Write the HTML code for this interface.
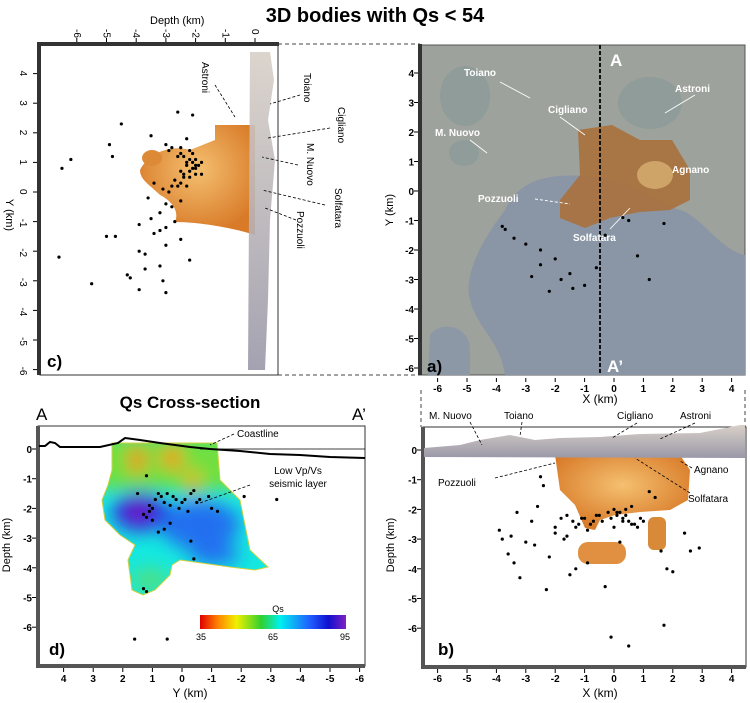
<!DOCTYPE html>
<html><head><meta charset="utf-8"><style>
body{margin:0;background:#fff;}
svg{display:block;font-family:"Liberation Sans",sans-serif;}
</style></head><body>
<svg id="fig" width="750" height="703" viewBox="0 0 750 703">
<defs>
<filter id="blur6"><feGaussianBlur stdDeviation="9"/></filter>
<clipPath id="dclip"><polygon points="112,443 217,443 220,480 240,500 245,525 250,550 268,567 255,570 230,567 180,560 172,565 170,575 155,590 143,595 132,590 128,560 135,545 120,535 105,520 102,500 108,485 112,470"/></clipPath>
<linearGradient id="cbar" x1="0" x2="1"><stop offset="0" stop-color="#e00000"/><stop offset="0.12" stop-color="#ff8000"/><stop offset="0.25" stop-color="#f0f000"/><stop offset="0.42" stop-color="#30d030"/><stop offset="0.55" stop-color="#00f0f0"/><stop offset="0.75" stop-color="#2060ff"/><stop offset="0.88" stop-color="#1010d0"/><stop offset="1" stop-color="#8020c0"/></linearGradient>
<radialGradient id="orange" cx="0.5" cy="0.4" r="0.6"><stop offset="0" stop-color="#f4c070"/><stop offset="1" stop-color="#d87a28"/></radialGradient>
<linearGradient id="surf" x1="0" y1="0" x2="0" y2="1"><stop offset="0" stop-color="#d8d0c8"/><stop offset="1" stop-color="#9a98a8"/></linearGradient>
</defs>
<text x="375" y="22" text-anchor="middle" font-size="20" font-weight="bold">3D bodies with Qs &lt; 54</text>

<g stroke="#444" stroke-dasharray="4,3" stroke-width="1" fill="none">
<line x1="278" y1="44" x2="420" y2="44"/><line x1="278" y1="375" x2="420" y2="375"/>
<line x1="421" y1="390" x2="421" y2="427"/><line x1="745" y1="390" x2="745" y2="427"/>
</g>

<!-- Panel c -->
<g>
<rect x="40" y="44" width="238" height="331" fill="#fff" stroke="#333" stroke-width="1"/>
<rect x="37" y="44" width="4" height="331" fill="#333"/>
<rect x="37" y="42" width="242" height="4" fill="#333"/>
<path d="M140,170 C150,150 175,145 190,150 L215,140 L215,125 L255,125 L255,235 L245,232 C230,228 200,222 175,222 C180,210 170,200 160,195 C150,185 140,180 140,170Z" fill="url(#orange)"/>
<ellipse cx="152" cy="158" rx="10" ry="8" fill="#dd8a36"/>
<path d="M252,52 L270,52 L274,80 L268,120 L275,160 L270,220 L268,300 L265,370 L248,370 L250,52Z" fill="url(#surf)" opacity="0.9"/>
<text x="150" y="24" font-size="11">Depth (km)</text>
<g id="cTopTicks" font-size="10"></g>
<g id="cLeftTicks" font-size="10"></g>
<text x="6" y="215" font-size="11" transform="rotate(90 6 215)" text-anchor="middle">Y (km)</text>
<g id="cDots"></g>
<g font-size="10">
<text transform="translate(202,62) rotate(90)">Astroni</text>
<text transform="translate(304,73) rotate(90)">Toiano</text>
<text transform="translate(338,107) rotate(90)">Cigliano</text>
<text transform="translate(307,143) rotate(90)">M. Nuovo</text>
<text transform="translate(335,188) rotate(90)">Solfatara</text>
<text transform="translate(297,211) rotate(90)">Pozzuoli</text>
</g>
<g stroke="#000" stroke-dasharray="3,2" stroke-width="0.8" fill="none">
<line x1="215" y1="85" x2="235" y2="117"/><line x1="300" y1="95" x2="270" y2="104"/>
<line x1="330" y1="128" x2="268" y2="138"/><line x1="298" y1="165" x2="262" y2="157"/>
<line x1="325" y1="205" x2="262" y2="190"/><line x1="296" y1="220" x2="265" y2="208"/>
</g>
<text x="47" y="367" font-size="17" font-weight="bold">c)</text>
</g>

<!-- Panel a -->
<g>
<rect x="420" y="45" width="325" height="330" fill="#9ea29c" stroke="#555"/>
<path d="M505,210 C520,175 560,172 600,178 C640,185 660,205 680,210 C700,215 720,250 745,255 L745,375 L505,375 C500,340 478,330 470,300 C462,270 490,230 505,210Z" fill="#8a96a6"/>
<path d="M430,335 C440,320 470,325 470,350 L470,375 L428,375Z" fill="#8c98a6"/>
<ellipse cx="465" cy="96" rx="25" ry="30" fill="#8f9c9a"/><ellipse cx="650" cy="103" rx="32" ry="26" fill="#8f9c9a"/><ellipse cx="464" cy="153" rx="15" ry="13" fill="#8f9c9a"/>
<path d="M578,130 L612,125 L640,140 L672,140 L690,170 L690,200 L670,210 L640,212 L610,218 L585,228 L560,218 L560,200 L580,175 Z" fill="#a8703c" opacity="0.9"/>
<ellipse cx="655" cy="175" rx="18" ry="14" fill="#d8b070" opacity="0.8"/>
<line x1="600" y1="45" x2="600" y2="375" stroke="#111" stroke-width="2" stroke-dasharray="4,2"/>
<rect x="418" y="44" width="4" height="331" fill="#333"/>
<text x="610" y="66" font-size="17" font-weight="bold" fill="#fff">A</text>
<text x="607" y="372" font-size="17" font-weight="bold" fill="#fff">A’</text>
<text x="427" y="372" font-size="17" font-weight="bold" fill="#000">a)</text>
<g font-size="10" font-weight="bold" fill="#fff">
<text x="464" y="76">Toiano</text><text x="675" y="92">Astroni</text><text x="548" y="113">Cigliano</text>
<text x="435" y="136">M. Nuovo</text><text x="672" y="173">Agnano</text><text x="478" y="202">Pozzuoli</text><text x="573" y="241">Solfatara</text>
</g>
<g stroke="#fff" stroke-width="0.9" fill="none">
<line x1="500" y1="82" x2="530" y2="98"/><line x1="695" y1="95" x2="665" y2="113"/><line x1="560" y1="117" x2="585" y2="135"/>
<line x1="470" y1="140" x2="487" y2="153"/><line x1="535" y1="199" x2="570" y2="204" stroke-dasharray="3,2"/><line x1="610" y1="229" x2="630" y2="208"/>
</g>
<g id="aDots"></g>
<g id="aLeftTicks" font-size="10"></g>
<text x="393" y="210" font-size="11" transform="rotate(-90 393 210)" text-anchor="middle">Y (km)</text>
</g>

<!-- Panel b -->
<g>
<g id="bTopTicks" font-size="10"></g>
<text x="600" y="403" font-size="12" text-anchor="middle">X (km)</text>
<rect x="423" y="427" width="323" height="240" fill="#fff" stroke="#333"/>
<rect x="421" y="427" width="4" height="242" fill="#555"/>
<rect x="421" y="665" width="325" height="4" fill="#555"/>
<path d="M555,455 L680,455 L690,470 L688,500 L670,510 L640,512 L615,515 L600,520 L595,530 L585,528 L575,505 L560,490 Z" fill="url(#orange)"/>
<rect x="648" y="517" width="18" height="33" rx="6" fill="#d88a38"/>
<rect x="578" y="542" width="48" height="22" rx="10" fill="#e09040"/>
<path d="M424,448 L460,445 L480,440 L510,435 L535,440 L560,438 L600,437 L640,434 L700,433 L740,425 L745,425 L745,458 L424,457Z" fill="url(#surf)"/>
<g id="bLeftTicks" font-size="10"></g>
<g id="bBotTicks" font-size="10"></g>
<text x="600" y="697" font-size="12" text-anchor="middle">X (km)</text>
<text x="394" y="545" font-size="11" transform="rotate(-90 394 545)" text-anchor="middle">Depth (km)</text>
<g id="bDots"></g>
<g font-size="10">
<text x="429" y="419">M. Nuovo</text><text x="504" y="419">Toiano</text><text x="617" y="419">Cigliano</text><text x="680" y="419">Astroni</text>
<text x="438" y="486">Pozzuoli</text><text x="694" y="473">Agnano</text><text x="688" y="502">Solfatara</text>
</g>
<g stroke="#000" stroke-width="0.8" fill="none" stroke-dasharray="3,2">
<line x1="470" y1="422" x2="482" y2="445"/><line x1="522" y1="422" x2="520" y2="436"/><line x1="637" y1="423" x2="612" y2="438"/><line x1="695" y1="423" x2="660" y2="439"/>
<line x1="495" y1="478" x2="555" y2="463"/><line x1="692" y1="468" x2="680" y2="461"/><line x1="690" y1="493" x2="635" y2="458"/>
</g>
<text x="438" y="655" font-size="17" font-weight="bold">b)</text>
</g>

<!-- Panel d -->
<g>
<text x="190" y="408" font-size="17" font-weight="bold" text-anchor="middle">Qs Cross-section</text>
<text x="36" y="420" font-size="17">A</text>
<text x="352" y="420" font-size="17">A’</text>
<rect x="38" y="426" width="327" height="240" fill="#fff" stroke="#333"/>
<rect x="36" y="426" width="4" height="242" fill="#555"/>
<rect x="36" y="664" width="329" height="4" fill="#555"/>
<g clip-path="url(#dclip)">
<rect x="95" y="435" width="180" height="170" fill="#14e8e0"/>
<g filter="url(#blur6)">
<rect x="95" y="435" width="180" height="55" fill="#70e040"/>
<ellipse cx="200" cy="525" rx="40" ry="25" fill="#2070f0"/>
<ellipse cx="215" cy="555" rx="25" ry="10" fill="#2070f0"/>
<ellipse cx="140" cy="512" rx="28" ry="20" fill="#2030e0"/>
<ellipse cx="138" cy="512" rx="14" ry="11" fill="#7010c0"/>
<ellipse cx="137" cy="460" rx="8" ry="14" fill="#ff7a00"/>
<ellipse cx="172" cy="458" rx="10" ry="12" fill="#ff8a00"/>
<ellipse cx="193" cy="482" rx="7" ry="12" fill="#ffa000"/>
<ellipse cx="150" cy="580" rx="20" ry="12" fill="#50e080"/>
</g>
</g>
<polygon points="112,443 217,443 220,480 240,500 245,525 250,550 268,567 255,570 230,567 180,560 172,565 170,575 155,590 143,595 132,590 128,560 135,545 120,535 105,520 102,500 108,485 112,470" fill="none" stroke="#d0d040" stroke-width="1"/>
<path d="M39,446 L45,446 L50,442 L55,443 L60,447 L100,447 L118,443 L125,438 L140,440 L160,443 L190,447 L210,449 L240,451 L270,454 L300,455 L330,457 L365,458" fill="none" stroke="#000" stroke-width="2"/>
<line x1="200" y1="449" x2="365" y2="449" stroke="#000" stroke-width="0.8"/>
<g id="dLeftTicks" font-size="10"></g>
<g id="dBotTicks" font-size="10"></g>
<text x="190" y="697" font-size="12" text-anchor="middle">Y (km)</text>
<text x="10" y="545" font-size="11" transform="rotate(-90 10 545)" text-anchor="middle">Depth (km)</text>
<g id="dDots"></g>
<text x="237" y="437" font-size="10">Coastline</text>
<line x1="234" y1="434" x2="210" y2="445" stroke="#000" stroke-width="0.8" stroke-dasharray="3,2"/>
<text x="298" y="474" font-size="10" text-anchor="middle">Low Vp/Vs</text>
<text x="298" y="487" font-size="10" text-anchor="middle">seismic layer</text>
<line x1="250" y1="485" x2="200" y2="503" stroke="#000" stroke-width="0.8" stroke-dasharray="3,2"/>
<rect x="200" y="615" width="146" height="14" fill="url(#cbar)"/>
<text x="278" y="612" font-size="9" text-anchor="middle">Qs</text>
<text x="201" y="640" font-size="9" text-anchor="middle">35</text><text x="273" y="640" font-size="9" text-anchor="middle">65</text><text x="345" y="640" font-size="9" text-anchor="middle">95</text>
<text x="49" y="655" font-size="17" font-weight="bold">d)</text>
</g>
</svg>
<script>
// ---- data ----
const depthTicks = [0,-1,-2,-3,-4,-5,-6];
const yTicksMap = [4,3,2,1,0,-1,-2,-3,-4,-5,-6];
const xTicks = [-6,-5,-4,-3,-2,-1,0,1,2,3,4];
const dYTicks = [4,3,2,1,0,-1,-2,-3,-4,-5,-6];
// panel c: [Y km, depth km]
const cDotsY = [2.7,2.6,2.3,1.9,1.8,1.6,1.5,1.3,1.2,1.1,1.0,0.9,0.8,0.7,0.6,0.5,0.3,0.2,0.1,0,-0.2,-0.4,-0.5,-0.7,-0.9,-1.1,-1.3,-1.5,-1.5,-1.6,-1.8,-2.0,-2.1,-2.2,-2.3,-2.5,-2.6,-2.8,-3.0,-3.1,-3.4,1.1,0.8,1.6,1.2,0.9,1.4,0.6,0.4,0.2,1.3,1.1,1.0,0.9,0.7,0.5,1.5,1.2,0.8,0.6,0.3,1.4,1.0,0.2,-0.3,-1.2,-1.4,-1.0,-2.9,-3.3];
const cDepth = [-2.6,-2.1,-4.5,-3.5,-2.3,-3.0,-2.8,-2.5,-2.4,-2.2,-2.1,-2.3,-2.0,-2.5,-1.8,-2.2,-3.4,-2.6,-3.1,-2.9,-3.6,-3.0,-2.8,-3.2,-3.5,-3.9,-3.2,-5.0,-4.7,-2.5,-3.0,-3.9,-3.7,-6.6,-2.2,-3.2,-3.7,-4.3,-3.1,-5.5,-3.0,-6.2,-6.5,-4.9,-4.8,-2.0,-2.9,-2.4,-2.7,-2.3,-2.1,-2.0,-2.3,-1.9,-2.2,-2.4,-2.5,-2.6,-2.1,-2.0,-2.5,-2.2,-1.8,-2.8,-2.5,-3.0,-3.4,-2.7,-4.2,-3.9];
// panel a: [X km, Y km]
const aDotsX = [-3.7,-3.0,-2.5,-2.0,-1.8,-1.5,-1.0,-0.6,-2.2,-3.4,-3.8,-2.8,0.5,0.8,1.2,1.7,-1.4,-0.3,0.3,-2.5];
const aDotsY = [-1.3,-1.8,-2.0,-2.3,-3.0,-2.8,-3.2,-2.6,-3.4,-1.6,-1.2,-2.9,-1.0,-2.2,-3.0,-1.1,-3.3,-1.5,-0.9,-2.5];
// panel b: [X km, depth km]
const bDotsX = [-3.9,-3.8,-3.6,-3.4,-3.3,-3.0,-2.8,-2.6,-2.4,-2.2,-2.0,-1.8,-1.6,-1.5,-1.4,-1.2,-1.0,-0.8,-0.6,-0.4,-0.2,0,0.1,0.2,0.3,0.4,0.5,0.6,0.8,1.0,1.2,1.4,1.6,1.8,2.0,2.4,2.6,2.9,-2.5,-1.7,-0.3,0.5,1.7,-3.2,-2.3,-1.3,-0.9,0.2,0.7,-0.1,-1.1,-0.7,-0.5,-0.1,0.1,0.3,0.4,0.6,0.9,-1.3,-1.6,-2.0,-2.7,-3.5,-0.9,0.0];
const bDepth = [-2.7,-3.0,-3.5,-3.8,-2.1,-3.1,-2.4,-1.9,-1.2,-3.6,-2.6,-2.3,-2.9,-4.2,-2.4,-2.5,-2.3,-2.5,-2.2,-2.4,-2.1,-2.0,-2.2,-2.1,-2.3,-2.0,-2.4,-1.9,-2.6,-2.4,-1.4,-1.6,-3.4,-4.0,-4.1,-2.8,-3.4,-3.3,-0.9,-3.0,-4.6,-6.6,-5.9,-4.3,-4.7,-4.0,-3.8,-3.1,-2.5,-6.3,-2.3,-2.4,-2.2,-2.3,-2.1,-2.4,-2.2,-2.5,-2.3,-2.6,-2.2,-2.8,-3.2,-2.9,-2.7,-2.6];
// panel d: [Y km, depth km]
const dDotsY = [1.2,1.1,1.0,0.9,0.8,0.7,0.6,0.5,0.4,0.3,0.2,0.1,0,-0.1,-0.2,-0.3,-0.4,-0.5,-0.6,-0.9,-1.0,-1.2,1.5,1.3,1.2,1.1,1.0,0.6,0.4,0.8,-2.1,-3.2,-0.3,-0.4,1.6,0.5,1.3,1.2];
const dDepth = [-0.9,-1.9,-2.0,-1.7,-1.5,-1.6,-1.8,-1.5,-1.9,-1.6,-1.7,-2.0,-1.8,-1.7,-2.1,-1.5,-1.4,-1.8,-1.7,-1.6,-2.0,-2.1,-1.5,-2.2,-2.3,-2.1,-2.4,-2.7,-2.5,-2.8,-1.6,-1.7,-3.1,-3.7,-6.4,-6.4,-4.7,-4.8];

// ---- axes ----
const cX = d => 255 + d*29.7, cY = y => 192 - y*29.6;
const aX = x => 614 + x*29.4, aY = y => 191 - y*29.5;
const bX = x => 614 + x*29.4, bY = d => 450 - d*29.7;
const dX = y => 182 - y*29.6, dY = d => 449 - d*29.7;
const NS='http://www.w3.org/2000/svg';
function mk(tag, attrs, parent, txt){const e=document.createElementNS(NS,tag);for(const k in attrs)e.setAttribute(k,attrs[k]);if(txt!==undefined)e.textContent=txt;parent.appendChild(e);return e;}
function dots(g, xs, ys, fx, fy, name){
  const G=document.getElementById(g);
  xs.forEach((v,i)=>{const c=mk('circle',{cx:fx(v),cy:fy(ys[i]),r:1.6,fill:'#000'},G);
    
    });
}
dots('cDots',cDepth,cDotsY,cX,cY,'c-event-dot');
dots('aDots',aDotsX,aDotsY,aX,aY,'a-event-dot');
dots('bDots',bDotsX,bDepth,bX,bY,'b-event-dot');
dots('dDots',dDotsY,dDepth,dX,dY,'d-event-dot');

function hTicks(g, vals, f, y, up, labelY, rot){
  const G=document.getElementById(g);
  vals.forEach(v=>{const x=f(v);
    mk('line',{x1:x,x2:x,y1:y,y2:y+(up?-4:4),stroke:'#000'},G);
    const t=rot?mk('text',{x:0,y:0,transform:`translate(${x-3},${labelY}) rotate(90)`},G,v):mk('text',{x:x,y:labelY,'text-anchor':'middle','font-weight':'bold'},G,v);
    
    });
}
function vTicks(g, vals, f, x, labelX, rot){
  const G=document.getElementById(g);
  vals.forEach(v=>{const y=f(v);
    mk('line',{x1:x-4,x2:x,y1:y,y2:y,stroke:'#000'},G);
    const t=rot?mk('text',{x:0,y:0,transform:`translate(${labelX},${y-3}) rotate(90)`},G,v):mk('text',{x:labelX,y:y+4,'text-anchor':'end','font-weight':'bold'},G,v);
    
    });
}
hTicks('cTopTicks',depthTicks,cX,42,true,29,true);
vTicks('cLeftTicks',yTicksMap,cY,37,20,true);
vTicks('aLeftTicks',yTicksMap,aY,418,414,false);
hTicks('bTopTicks',xTicks,bX,378,false,392,false);
hTicks('bBotTicks',xTicks,bX,669,false,682,false);
vTicks('bLeftTicks',depthTicks,bY,421,417,false);
vTicks('dLeftTicks',depthTicks,dY,36,32,false);
hTicks('dBotTicks',dYTicks,dX,668,false,682,false);
</script>
</body></html>
